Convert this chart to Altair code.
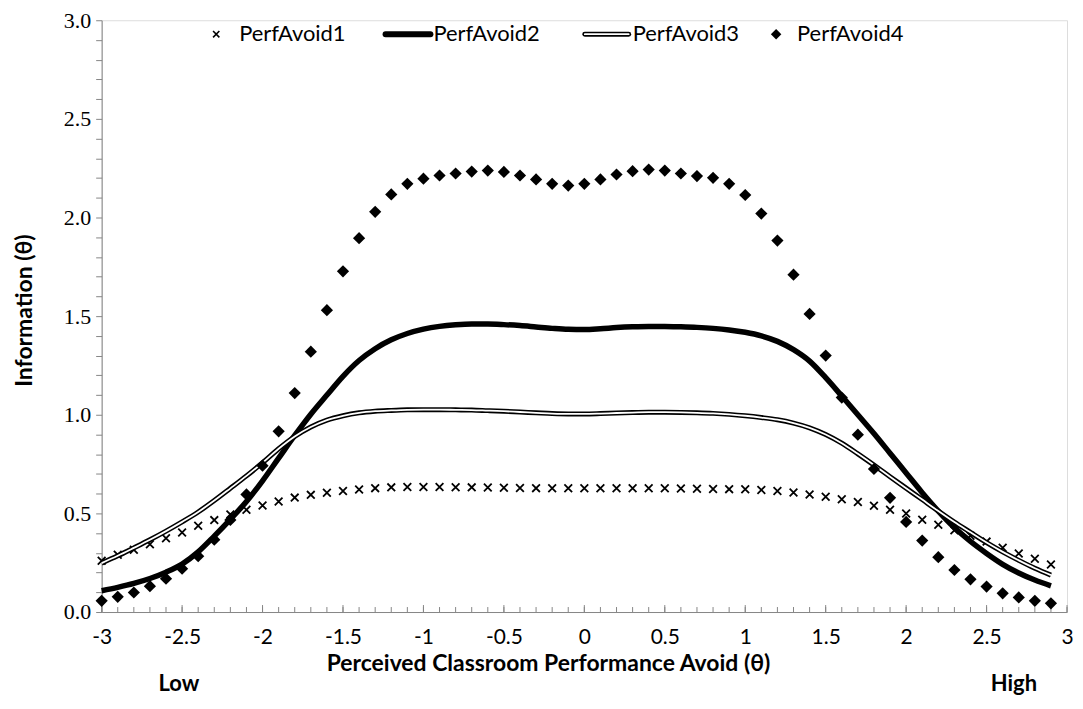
import altair as alt
import pandas as pd

# ---------------- data ----------------
theta = [-3.0, -2.9, -2.8, -2.7, -2.6, -2.5, -2.4, -2.3, -2.2, -2.1,
         -2.0, -1.9, -1.8, -1.7, -1.6, -1.5, -1.4, -1.3, -1.2, -1.1,
         -1.0, -0.9, -0.8, -0.7, -0.6, -0.5, -0.4, -0.3, -0.2, -0.1,
         0.0, 0.1, 0.2, 0.3, 0.4, 0.5, 0.6, 0.7, 0.8, 0.9,
         1.0, 1.1, 1.2, 1.3, 1.4, 1.5, 1.6, 1.7, 1.8, 1.9,
         2.0, 2.1, 2.2, 2.3, 2.4, 2.5, 2.6, 2.7, 2.8, 2.9]

perf_avoid1 = [0.260, 0.290, 0.316, 0.344, 0.374, 0.403, 0.437, 0.466, 0.495, 0.518,
               0.540, 0.560, 0.580, 0.594, 0.605, 0.614, 0.621, 0.628, 0.632, 0.634,
               0.634, 0.634, 0.633, 0.632, 0.631, 0.630, 0.629, 0.628, 0.627, 0.627,
               0.627, 0.627, 0.627, 0.627, 0.627, 0.627, 0.626, 0.625, 0.624, 0.623,
               0.622, 0.619, 0.614, 0.606, 0.596, 0.584, 0.572, 0.558, 0.539, 0.518,
               0.499, 0.468, 0.442, 0.414, 0.387, 0.357, 0.326, 0.297, 0.270, 0.241]

perf_avoid2 = [0.108, 0.125, 0.145, 0.170, 0.202, 0.243, 0.305, 0.385, 0.470, 0.560,
               0.665, 0.780, 0.895, 1.003, 1.100, 1.195, 1.275, 1.335, 1.380, 1.412,
               1.434, 1.448, 1.456, 1.460, 1.460, 1.457, 1.452, 1.445, 1.438, 1.433,
               1.432, 1.436, 1.442, 1.446, 1.448, 1.448, 1.446, 1.443, 1.438, 1.430,
               1.418, 1.400, 1.372, 1.330, 1.272, 1.188, 1.095, 1.000, 0.905, 0.805,
               0.705, 0.605, 0.512, 0.428, 0.358, 0.297, 0.242, 0.198, 0.162, 0.133]

perf_avoid3 = [0.248, 0.285, 0.325, 0.366, 0.410, 0.457, 0.507, 0.565, 0.627, 0.690,
               0.757, 0.828, 0.890, 0.938, 0.973, 0.995, 1.010, 1.018, 1.022, 1.025,
               1.026, 1.026, 1.025, 1.024, 1.021, 1.018, 1.014, 1.010, 1.006, 1.004,
               1.004, 1.006, 1.009, 1.011, 1.013, 1.013, 1.012, 1.010, 1.007, 1.002,
               0.995, 0.986, 0.975, 0.958, 0.934, 0.900, 0.856, 0.802, 0.745, 0.686,
               0.628, 0.570, 0.512, 0.456, 0.404, 0.352, 0.305, 0.262, 0.222, 0.187]

perf_avoid4 = [0.057, 0.077, 0.099, 0.131, 0.169, 0.220, 0.283, 0.367, 0.467, 0.596,
               0.742, 0.916, 1.110, 1.320, 1.530, 1.727, 1.895, 2.029, 2.117, 2.171,
               2.197, 2.213, 2.223, 2.233, 2.238, 2.231, 2.213, 2.193, 2.171, 2.162,
               2.171, 2.193, 2.218, 2.235, 2.243, 2.238, 2.223, 2.210, 2.201, 2.171,
               2.114, 2.020, 1.883, 1.710, 1.511, 1.300, 1.087, 0.899, 0.725, 0.579,
               0.457, 0.362, 0.278, 0.213, 0.166, 0.129, 0.095, 0.074, 0.057, 0.044]

series_names = ["PerfAvoid1", "PerfAvoid2", "PerfAvoid3", "PerfAvoid4"]

x_label_values = [-3, -2.5, -2, -1.5, -1, -0.5, 0, 0.5, 1, 1.5, 2, 2.5, 3]
x_minor_values = [-3.0, -2.9, -2.8, -2.7, -2.6, -2.5, -2.4, -2.3, -2.2, -2.1,
                  -2.0, -1.9, -1.8, -1.7, -1.6, -1.5, -1.4, -1.3, -1.2, -1.1,
                  -1.0, -0.9, -0.8, -0.7, -0.6, -0.5, -0.4, -0.3, -0.2, -0.1,
                  0.0, 0.1, 0.2, 0.3, 0.4, 0.5, 0.6, 0.7, 0.8, 0.9,
                  1.0, 1.1, 1.2, 1.3, 1.4, 1.5, 1.6, 1.7, 1.8, 1.9,
                  2.0, 2.1, 2.2, 2.3, 2.4, 2.5, 2.6, 2.7, 2.8, 2.9, 3.0]
y_tick_values = [0.0, 0.1, 0.2, 0.3, 0.4, 0.5, 0.6, 0.7, 0.8, 0.9,
                 1.0, 1.1, 1.2, 1.3, 1.4, 1.5, 1.6, 1.7, 1.8, 1.9,
                 2.0, 2.1, 2.2, 2.3, 2.4, 2.5, 2.6, 2.7, 2.8, 2.9, 3.0]

annot_text = ["Low", "High"]
annot_theta = [-2.52, 2.67]

x_title = "Perceived Classroom Performance Avoid (θ)"
y_title = "Information (θ)"

# ---------------- layout constants ----------------
W, H = 969, 594
AXIS_GRAY = "#868686"
SANS = "Lato"

df1 = pd.DataFrame({"theta": theta, "info": perf_avoid1})
df2 = pd.DataFrame({"theta": theta, "info": perf_avoid2})
df3 = pd.DataFrame({"theta": theta, "info": perf_avoid3})
df4 = pd.DataFrame({"theta": theta, "info": perf_avoid4})
minor_df = pd.DataFrame({"theta": x_minor_values})
major_df = pd.DataFrame({"theta": x_label_values})
annot_df = pd.DataFrame({"theta": annot_theta, "txt": annot_text})

X = alt.X(
    "theta:Q",
    scale=alt.Scale(domain=[-3, 3], nice=False, zero=False),
    axis=alt.Axis(
        title=x_title,
        values=x_label_values,
        labelExpr="'' + datum.value",
        ticks=False,
        tickSize=0,
        grid=False,
        domainColor=AXIS_GRAY,
        domainWidth=1,
        labelFont=SANS,
        labelFontSize=21,
        labelColor="black",
        labelPadding=15,
        labelFlush=False,
        labelOverlap=False,
        titleFont=SANS,
        titleFontSize=23,
        titleFontWeight="bold",
        titleColor="black",
        titleX=448,
        titleY=52,
        titleAlign="center",
        titleBaseline="middle",
    ),
)

Y = alt.Y(
    "info:Q",
    scale=alt.Scale(domain=[0, 3], nice=False, zero=True),
    axis=alt.Axis(
        title=y_title,
        values=y_tick_values,
        labelExpr="abs(datum.value * 2 - round(datum.value * 2)) < 0.001 ? format(datum.value, '.1f') : ''",
        ticks=True,
        tickSize=6,
        tickColor=AXIS_GRAY,
        tickWidth=1,
        grid=False,
        domainColor=AXIS_GRAY,
        domainWidth=1,
        labelFont="Liberation Serif",
        labelFontSize=22,
        labelColor="black",
        labelPadding=5,
        labelFlush=False,
        labelOverlap=False,
        titleFont=SANS,
        titleFontSize=23,
        titleFontWeight="bold",
        titleColor="black",
        titleX=-77,
        titleY=291,
        titleAngle=270,
        titleAlign="center",
        titleBaseline="middle",
    ),
)

cross_path = "M-1,-1L1,1M-1,1L1,-1"

# inward x ticks (minor and major)
minor_ticks = alt.Chart(minor_df).mark_rule(color=AXIS_GRAY, strokeWidth=1).encode(
    x=X, y=alt.value(H), y2=alt.value(H - 5)
)
major_ticks = alt.Chart(major_df).mark_rule(color=AXIS_GRAY, strokeWidth=1).encode(
    x=X, y=alt.value(H), y2=alt.value(H - 7)
)

s1 = alt.Chart(df1).mark_point(
    shape=cross_path, filled=False, stroke="black", strokeWidth=1.8, size=60, opacity=1
).encode(x=X, y=Y)

s2 = alt.Chart(df2).mark_line(
    color="black", strokeWidth=5.5, interpolate="monotone"
).encode(x=X, y=Y)

s3_outer = alt.Chart(df3).mark_line(
    color="black", strokeWidth=5, interpolate="monotone"
).encode(x=X, y=Y)
s3_inner = alt.Chart(df3).mark_line(
    color="white", strokeWidth=1.8, interpolate="monotone"
).encode(x=X, y=Y)

s4 = alt.Chart(df4).mark_point(
    shape="diamond", filled=True, color="black", size=150, opacity=1
).encode(x=X, y=Y)

annot = alt.Chart(annot_df).mark_text(
    font=SANS, fontSize=22, fontWeight="bold", color="black", baseline="middle"
).encode(x=X, y=alt.value(H + 72), text="txt:N")

# ---------------- legend (drawn in the plot area, top) ----------------
one = alt.Data(values=[{"k": 1}])
LEG_Y = 14
leg_cross = alt.Chart(one).mark_point(
    shape=cross_path, filled=False, stroke="black", strokeWidth=1.6, size=40, opacity=1
).encode(x=alt.value(115), y=alt.value(LEG_Y))
leg_thick = alt.Chart(one).mark_rule(color="black", strokeWidth=6, strokeCap="round").encode(
    x=alt.value(285), x2=alt.value(330), y=alt.value(LEG_Y)
)
leg_dbl_outer = alt.Chart(one).mark_rule(color="black", strokeWidth=5, strokeCap="round").encode(
    x=alt.value(485), x2=alt.value(529), y=alt.value(LEG_Y)
)
leg_dbl_inner = alt.Chart(one).mark_rule(color="white", strokeWidth=1.8, strokeCap="round").encode(
    x=alt.value(485), x2=alt.value(529), y=alt.value(LEG_Y)
)
leg_diamond = alt.Chart(one).mark_point(
    shape="diamond", filled=True, color="black", size=110, opacity=1
).encode(x=alt.value(677), y=alt.value(LEG_Y))

leg_text_x = [138, 333, 533, 698]
leg_texts = [
    alt.Chart(one).mark_text(
        text=name, font=SANS, fontSize=22, color="black", align="left", baseline="middle"
    ).encode(x=alt.value(px), y=alt.value(LEG_Y))
    for name, px in zip(series_names, leg_text_x)
]

chart = alt.layer(
    s1, minor_ticks, major_ticks, s2, s3_outer, s3_inner, s4, annot,
    leg_cross, leg_thick, leg_dbl_outer, leg_dbl_inner, leg_diamond, *leg_texts
).properties(
    width=W,
    height=H,
    autosize=alt.AutoSizeParams(type="none"),
    padding={"left": 94, "top": 11, "right": 8, "bottom": 84},
).configure_view(stroke=None).configure(background="white")

chart.save("out.html", embed_options={"renderer": "svg", "actions": False})
